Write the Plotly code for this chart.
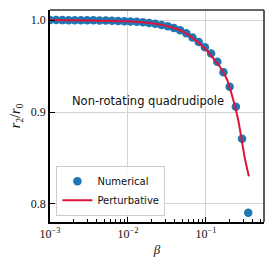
import plotly.graph_objects as go

# Numerical data (beta, r2/r0)
num_beta = [0.001000, 0.001200, 0.001442, 0.001731, 0.002078, 0.002495, 0.002996,
            0.003597, 0.004319, 0.005188, 0.006228, 0.007477, 0.008981, 0.01078,
            0.01295, 0.01554, 0.01866, 0.02241, 0.02691, 0.03231, 0.03879,
            0.04658, 0.05593, 0.06715, 0.08064, 0.09683, 0.1163, 0.1396,
            0.1676, 0.2012, 0.2416, 0.2902, 0.3483]
num_r = [0.99994, 0.99992, 0.9999, 0.99987, 0.99983, 0.99979, 0.99972,
         0.99965, 0.99955, 0.99942, 0.99926, 0.99905, 0.99879, 0.99845,
         0.99802, 0.99746, 0.99675, 0.99584, 0.99467, 0.99318, 0.99127,
         0.98883, 0.9857, 0.9810, 0.9760, 0.9705, 0.9635, 0.9547,
         0.9432, 0.9275, 0.9058, 0.8710, 0.7905]

# Perturbative curve
pert_beta = [0.001, 0.003, 0.01, 0.02, 0.035, 0.05, 0.07, 0.1, 0.13, 0.151,
             0.1875, 0.224, 0.259, 0.287, 0.316, 0.355]
pert_r = [1.0, 0.9996, 0.9986, 0.9964, 0.9925, 0.9877, 0.9795, 0.968, 0.956,
          0.9492, 0.9348, 0.913, 0.8913, 0.8696, 0.849, 0.830]

x_tickvals = [0.001, 0.01, 0.1]
x_ticktext = ["10<sup>−3</sup>", "10<sup>−2</sup>", "10<sup>−1</sup>"]
x_minor = [m * d for d in (0.001, 0.01, 0.1) for m in range(2, 10) if m * d < 0.56]
y_tickvals = [0.8, 0.9, 1.0]
y_ticktext = ["0.8", "0.9", "1.0"]

fig = go.Figure()
fig.add_trace(go.Scatter(
    x=num_beta, y=num_r, mode="markers", name="Numerical",
    marker=dict(color="#1f77b4", size=8.5, line=dict(width=0)),
))
fig.add_trace(go.Scatter(
    x=pert_beta, y=pert_r, mode="lines", name="Perturbative",
    line=dict(color="#dc143c", width=2, shape="spline", smoothing=0.6),
))

fig.add_annotation(
    x=0.458, y=0.571, xref="paper", yref="paper",
    text="Non-rotating quadrudipole", showarrow=False,
    font=dict(family="DejaVu Sans", size=11.5, color="#111"),
)

# top and right spines
fig.add_shape(type="line", xref="paper", yref="paper", x0=0, x1=1, y0=1, y1=1,
              line=dict(color="#333", width=1.6))
fig.add_shape(type="line", xref="paper", yref="paper", x0=1, x1=1, y0=0, y1=1,
              line=dict(color="#333", width=1.6))

# page body has an 8px margin: figure sized/placed to fill the 274x266 window
fig.update_layout(
    width=266, height=258,
    margin=dict(l=42, r=10, t=2, b=44, autoexpand=False),
    paper_bgcolor="white", plot_bgcolor="white",
    font=dict(family="Liberation Serif", size=12, color="#111"),
    showlegend=True,
    legend=dict(
        x=0.03, y=0.03, xanchor="left", yanchor="bottom",
        bgcolor="rgba(255,255,255,0.85)", bordercolor="#cccccc", borderwidth=1,
        font=dict(family="DejaVu Sans", size=10, color="#111"),
        itemwidth=30, tracegroupgap=0,
    ),
    xaxis=dict(
        type="log", range=[-3, -0.256], automargin=False,
        tickmode="array", tickvals=x_tickvals, ticktext=x_ticktext,
        ticks="inside", ticklen=5, tickwidth=1.2, tickcolor="black",
        showline=True, linecolor="black", linewidth=1.5,
        showgrid=True, gridcolor="#d3d3d3", gridwidth=1,
        zeroline=False,
        minor=dict(tickmode="array", tickvals=x_minor, ticks="inside",
                   ticklen=3, tickwidth=1, tickcolor="black", showgrid=False),
        title=dict(text="<i>β</i>", standoff=5,
                   font=dict(family="Liberation Serif", size=13)),
        tickfont=dict(family="Liberation Serif", size=12),
    ),
    yaxis=dict(
        range=[0.7804, 1.0109], automargin=False,
        tickmode="array", tickvals=y_tickvals, ticktext=y_ticktext,
        ticks="inside", ticklen=5, tickwidth=1.2, tickcolor="black",
        showline=True, linecolor="black", linewidth=1.5,
        showgrid=True, gridcolor="#d3d3d3", gridwidth=1,
        zeroline=False,
        title=dict(text="<i>r</i><sub>2</sub>/<i>r</i><sub>0</sub>", standoff=10,
                   font=dict(family="Liberation Serif", size=14)),
        tickfont=dict(family="Liberation Serif", size=12),
    ),
)

fig.write_html("out.html")
